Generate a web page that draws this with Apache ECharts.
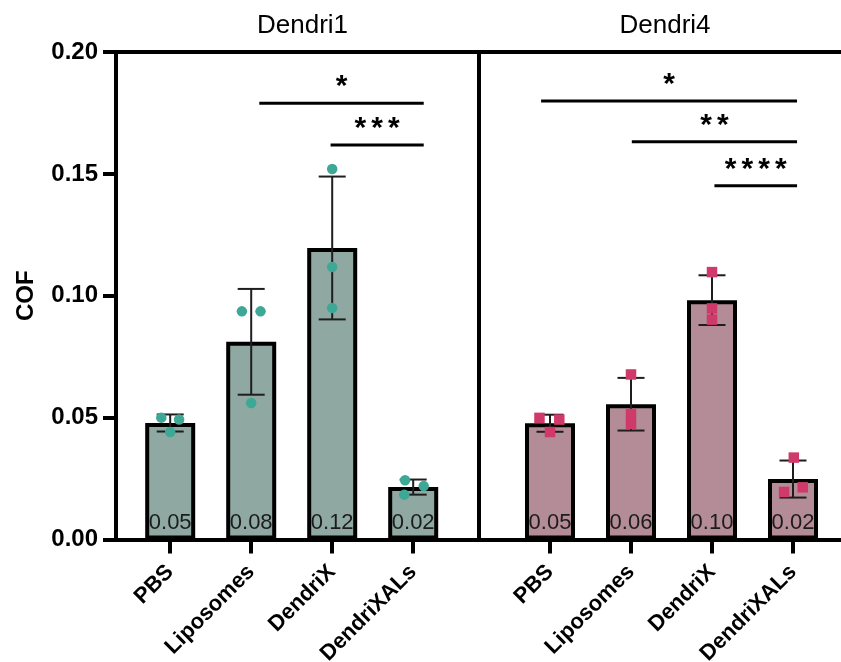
<!DOCTYPE html>
<html>
<head>
<meta charset="utf-8">
<script src="https://cdn.jsdelivr.net/npm/echarts@6/dist/echarts.min.js"></script>
<style>
  html, body { margin: 0; padding: 0; background: #ffffff; }
  #chart { width: 841px; height: 662px; }
</style>
</head>
<body>
<div id="chart"></div>
<script>
// ---- data ----
const categories = ['PBS', 'Liposomes', 'DendriX', 'DendriXALs'];
const panelTitles = ['Dendri1', 'Dendri4'];
const yMax = 0.20;
const yStep = 0.05;

// Dendri1: group means, SD and individual replicates
const dendri1Mean = [0.0478, 0.0811, 0.1196, 0.0215];
const dendri1Sd = [0.0035, 0.0217, 0.0293, 0.0031];
const dendri1Points = [
  [0.0500, 0.0492, 0.0441],
  [0.0936, 0.0936, 0.0560],
  [0.1520, 0.1118, 0.0950],
  [0.0243, 0.0219, 0.0184]
];
const dendri1Jitter = [
  [-0.11, 0.11, 0],
  [-0.115, 0.115, 0],
  [0, 0, 0],
  [-0.10, 0.13, -0.11]
];
// comparison bars: [from category, to category, height]
const dendri1Brackets = [[1.10, 3.13, 0.1790], [1.98, 3.13, 0.1618]];
const dendri1Stars = ['*', '***'];

// Dendri4
const dendri4Mean = [0.0477, 0.0555, 0.0982, 0.0248];
const dendri4Sd = [0.0035, 0.0108, 0.0102, 0.0076];
const dendri4Points = [
  [0.0499, 0.0492, 0.0441],
  [0.0677, 0.0515, 0.0474],
  [0.1097, 0.0948, 0.0902],
  [0.0336, 0.0195, 0.0214]
];
const dendri4Jitter = [
  [-0.13, 0.115, 0],
  [0, 0, 0],
  [0, 0, 0],
  [0.01, -0.11, 0.12]
];
const dendri4Brackets = [[-0.11, 3.05, 0.1799], [1.01, 3.05, 0.1632], [2.03, 3.05, 0.1451]];
const dendri4Stars = ['*', '**', '****'];

// ---- styling ----
const FONT = '"Liberation Sans", Arial, Helvetica, sans-serif';
const INK = '#000000';
const panels = [
  { mean: dendri1Mean, sd: dendri1Sd, pts: dendri1Points, jit: dendri1Jitter,
    br: dendri1Brackets, stars: dendri1Stars, fill: '#8fa9a2', dot: '#3ea897', symbol: 'circle' },
  { mean: dendri4Mean, sd: dendri4Sd, pts: dendri4Points, jit: dendri4Jitter,
    br: dendri4Brackets, stars: dendri4Stars, fill: '#b38c97', dot: '#cf3a6b', symbol: 'rect' }
];

const TOP = 52, PLOT_H = 487.5;

const gridBox = (left, width) => ({ left: left, top: TOP, width: width, height: PLOT_H, outerBoundsMode: 'none' });
const grid = [
  gridBox(116, 363),   // frame, left panel
  gridBox(479, 420),   // frame, right panel
  gridBox(129.7, 324), // data, left panel
  gridBox(509.5, 324)  // data, right panel
];

const frameLine = { show: true, onZero: false, lineStyle: { color: INK, width: 4 } };
const hiddenValueX = (gi) => ({ type: 'value', gridIndex: gi, min: -0.5, max: 3.5, show: false });
const frameX = (gi, pos) => ({
  type: 'value', gridIndex: gi, position: pos, min: 0, max: 1,
  axisLine: frameLine, axisTick: { show: false }, axisLabel: { show: false }, splitLine: { show: false }
});
const catX = (gi) => ({
  type: 'category', gridIndex: gi, data: categories, position: 'bottom',
  axisLine: { show: false, onZero: false },
  axisTick: { show: true, alignWithLabel: true, length: 14, lineStyle: { color: INK, width: 4 } },
  axisLabel: { rotate: 45, margin: 29, fontFamily: FONT, fontWeight: 'bold', fontSize: 22, color: INK },
  splitLine: { show: false }
});
const hiddenY = (gi) => ({ type: 'value', gridIndex: gi, min: 0, max: yMax, show: false });

const xAxis = [
  frameX(0, 'bottom'), frameX(0, 'top'), frameX(1, 'bottom'), frameX(1, 'top'),
  catX(2), catX(3),
  hiddenValueX(2), hiddenValueX(3)
];

const yAxis = [
  {
    type: 'value', gridIndex: 0, position: 'left', min: 0, max: yMax, interval: yStep,
    name: 'COF', nameLocation: 'middle', nameGap: 78, nameRotate: 90,
    nameTextStyle: { fontFamily: FONT, fontWeight: 'bold', fontSize: 24, color: INK },
    axisLine: frameLine,
    axisTick: { show: true, length: 13, lineStyle: { color: INK, width: 4 } },
    axisLabel: { margin: 18, fontFamily: FONT, fontWeight: 'bold', fontSize: 24, color: INK,
                 formatter: (v) => v.toFixed(2) },
    splitLine: { show: false }
  },
  {
    type: 'value', gridIndex: 0, position: 'right', min: 0, max: yMax,
    axisLine: frameLine, axisTick: { show: false }, axisLabel: { show: false }, splitLine: { show: false }
  },
  hiddenY(1), hiddenY(2), hiddenY(3)
];

const STAR_STEP = 16.8;
const series = [];
panels.forEach((p, k) => {
  const catAxis = 4 + k, valAxis = 6 + k, yIdx = 3 + k;

  series.push({
    type: 'bar', xAxisIndex: catAxis, yAxisIndex: yIdx, barWidth: 50, z: 2,
    data: p.mean,
    itemStyle: { color: p.fill, borderColor: INK, borderWidth: 4 },
    label: {
      show: true, position: 'insideBottom', distance: 6,
      fontFamily: FONT, fontSize: 22, color: '#1c1c1c',
      formatter: (d) => d.value.toFixed(2)
    }
  });

  // mean ± SD whiskers
  series.push({
    type: 'custom', xAxisIndex: catAxis, yAxisIndex: yIdx, z: 3,
    data: p.mean.map((m, i) => [i, m - p.sd[i], m + p.sd[i]]),
    renderItem: (params, api) => {
      const lo = api.coord([api.value(0), api.value(1)]);
      const hi = api.coord([api.value(0), api.value(2)]);
      const hw = 13.5;
      const st = { stroke: '#1e1e1e', lineWidth: 2 };
      return {
        type: 'group',
        children: [
          { type: 'line', shape: { x1: lo[0], y1: lo[1], x2: hi[0], y2: hi[1] }, style: st },
          { type: 'line', shape: { x1: hi[0] - hw, y1: hi[1], x2: hi[0] + hw, y2: hi[1] }, style: st },
          { type: 'line', shape: { x1: lo[0] - hw, y1: lo[1], x2: lo[0] + hw, y2: lo[1] }, style: st }
        ]
      };
    }
  });

  // individual replicates
  const scatterData = [];
  p.pts.forEach((row, i) => row.forEach((v, j) => scatterData.push([i + p.jit[i][j], v])));
  series.push({
    type: 'scatter', xAxisIndex: valAxis, yAxisIndex: yIdx, z: 4,
    symbol: p.symbol, symbolSize: 10.5,
    itemStyle: { color: p.dot, opacity: 1 },
    data: scatterData
  });

  // significance bars with stars
  series.push({
    type: 'custom', xAxisIndex: valAxis, yAxisIndex: yIdx, z: 5,
    data: p.br,
    renderItem: (params, api) => {
      const a = api.coord([api.value(0), api.value(2)]);
      const b = api.coord([api.value(1), api.value(2)]);
      const mid = (a[0] + b[0]) / 2;
      const n = p.stars[params.dataIndex].length;
      const children = [
        { type: 'line', shape: { x1: a[0], y1: a[1], x2: b[0], y2: b[1] },
          style: { stroke: INK, lineWidth: 3 } }
      ];
      for (let s = 0; s < n; s++) {
        children.push({
          type: 'text', x: mid + (s - (n - 1) / 2) * STAR_STEP, y: a[1] - 1,
          style: { text: '*', fill: INK, fontFamily: FONT, fontSize: 30, fontWeight: 'bold',
                   align: 'center', verticalAlign: 'bottom' }
        });
      }
      return { type: 'group', children: children };
    }
  });
});

const option = {
  backgroundColor: '#ffffff',
  animation: false,
  title: [
    { text: panelTitles[0], left: 297.5, top: 8, textAlign: 'center',
      textStyle: { fontFamily: FONT, fontWeight: 'normal', fontSize: 26, color: INK } },
    { text: panelTitles[1], left: 660, top: 8, textAlign: 'center',
      textStyle: { fontFamily: FONT, fontWeight: 'normal', fontSize: 26, color: INK } }
  ],
  grid: grid,
  xAxis: xAxis,
  yAxis: yAxis,
  series: series
};

const chart = echarts.init(document.getElementById('chart'));
chart.setOption(option);
</script>
</body>
</html>
